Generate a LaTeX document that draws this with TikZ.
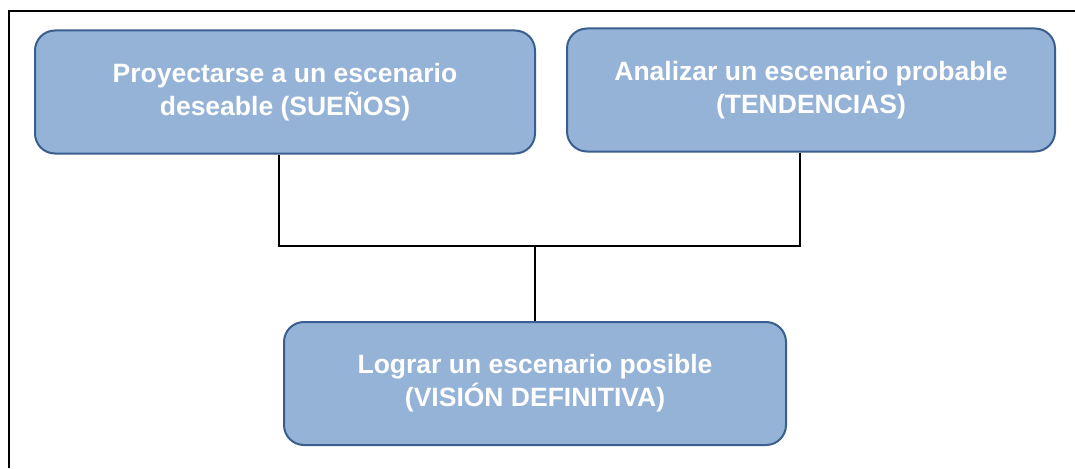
\documentclass[tikz,border=0pt]{standalone}
\usepackage{fontspec}
\setmainfont{Liberation Sans}
\usetikzlibrary{shapes.geometric, arrows}
\definecolor{boxfill}{HTML}{95B3D7}
\definecolor{boxline}{HTML}{3A5F8E}
\begin{document}
\begin{tikzpicture}[x=1pt,y=-1pt]
    \tikzstyle{proc} = [rectangle, rounded corners=20pt, minimum height=123pt, align=center, draw=boxline, fill=boxfill, line width=2pt, text=white, font=\fontsize{26.5}{33}\selectfont\bfseries]
    \tikzstyle{conn} = [line width=2.6pt]
    \useasboundingbox (0,0) rectangle (1075,468);
    \draw[line width=2.6pt] (9,468) -- (9,11) -- (1075,11);
    \node (a) [proc, minimum width=500pt] at (285, 92)  {Proyectarse a un escenario\\deseable (SUEÑOS)};
    \node (b) [proc, minimum width=488pt] at (811, 90)  {Analizar un escenario probable\\(TENDENCIAS)};
    \node (c) [proc, minimum width=502pt] at (535, 383.5) {Lograr un escenario posible\\(VISIÓN DEFINITIVA)};
    \coordinate (m) at (535, 246);
    \draw[conn] ([xshift=-6pt]a.south) |- (m);
    \draw[conn] ([xshift=-11pt]b.south) |- (m);
    \draw[conn] (m) -- (c.north);
\end{tikzpicture}
\end{document}
